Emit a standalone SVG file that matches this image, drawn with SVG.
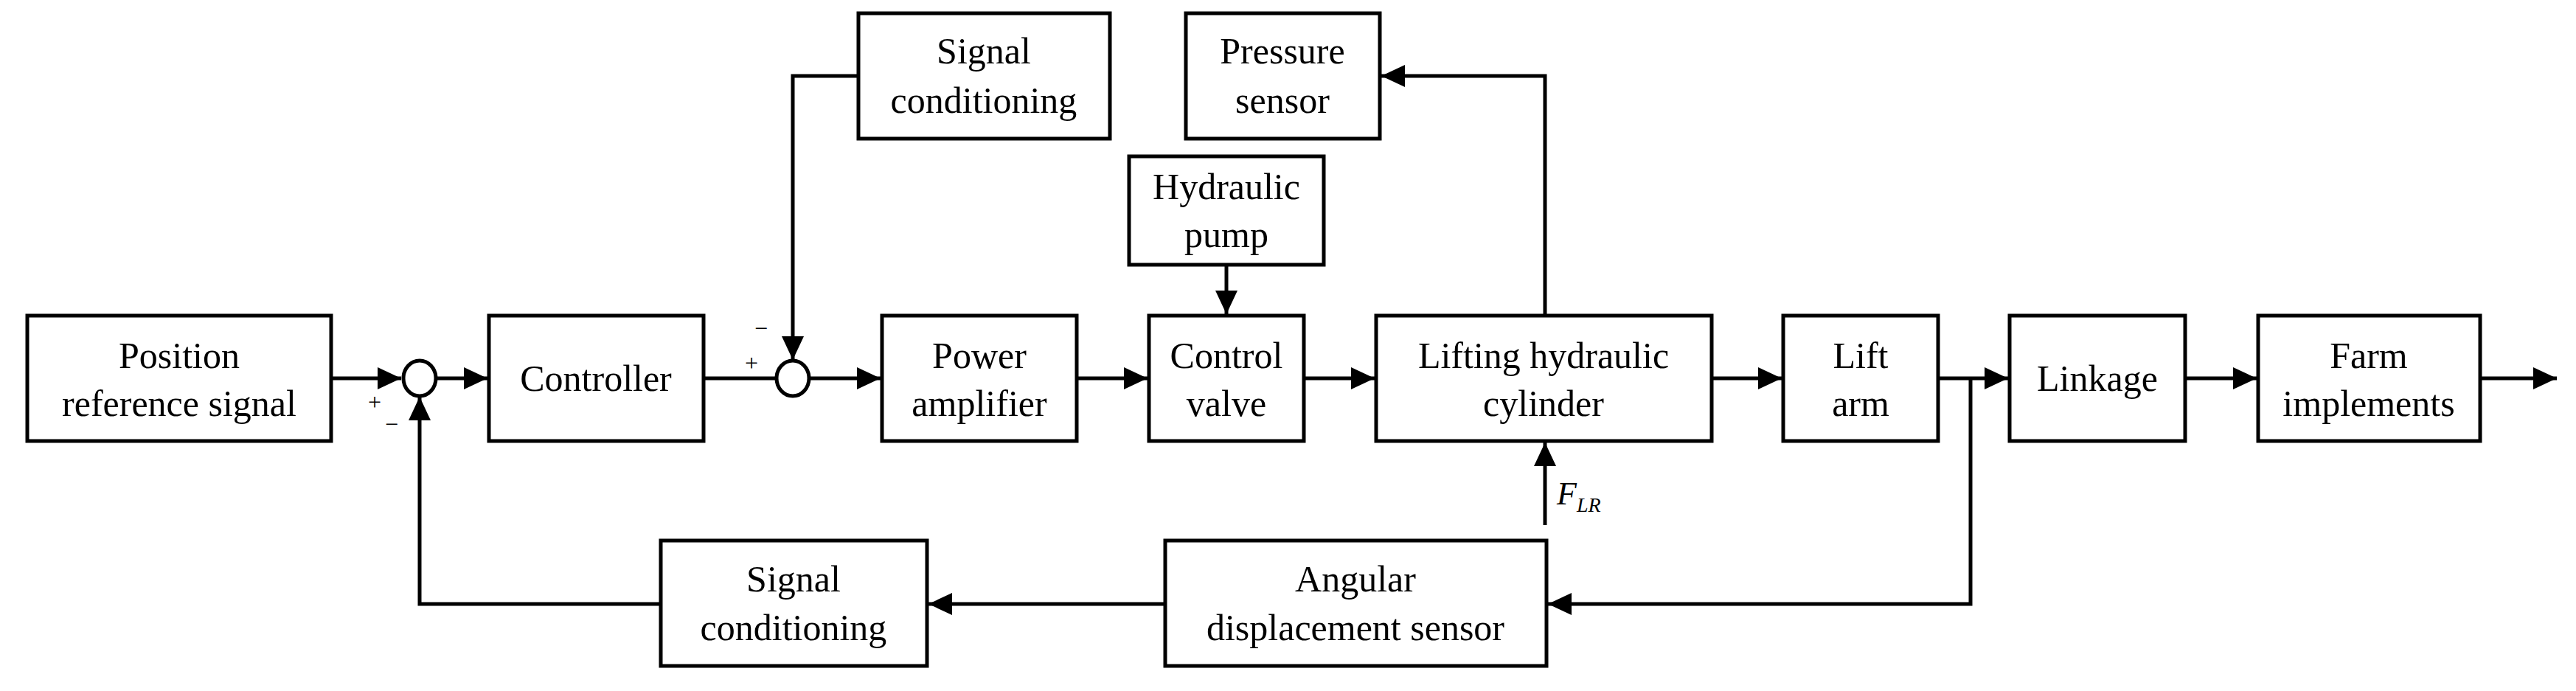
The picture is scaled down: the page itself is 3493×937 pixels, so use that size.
<svg xmlns="http://www.w3.org/2000/svg" width="3493" height="937" viewBox="0 0 3493 937">
<style>
.b{fill:#fff;stroke:#000;stroke-width:5}
.t{font-family:"Liberation Serif",serif;font-size:50px;text-anchor:middle;fill:#000}
.s{font-family:"Liberation Serif",serif;font-size:32px;text-anchor:middle;fill:#000}
.c{fill:none;stroke:#000;stroke-width:5}
</style>
<defs>
<marker id="a" markerUnits="userSpaceOnUse" markerWidth="34" markerHeight="30" refX="32" refY="15" orient="auto"><path d="M0,0L32,15L0,30Z"/></marker>
</defs>
<rect width="3493" height="937" fill="#fff"/>
<g id="connectors">
<path class="c" d="M449,513H544" marker-end="url(#a)"/>
<path class="c" d="M592,513H661" marker-end="url(#a)"/>
<path class="c" d="M954,513H1052"/>
<path class="c" d="M1098,513H1194" marker-end="url(#a)"/>
<path class="c" d="M1460,513H1556" marker-end="url(#a)"/>
<path class="c" d="M1768,513H1864" marker-end="url(#a)"/>
<path class="c" d="M2321,513H2416" marker-end="url(#a)"/>
<path class="c" d="M2628,513H2723" marker-end="url(#a)"/>
<path class="c" d="M2963,513H3060" marker-end="url(#a)"/>
<path class="c" d="M3363,513H3467" marker-end="url(#a)"/>
<path class="c" d="M1164,103H1075V488" marker-end="url(#a)"/>
<path class="c" d="M2095,428V103H1873" marker-end="url(#a)"/>
<path class="c" d="M1663,359V426" marker-end="url(#a)"/>
<path class="c" d="M2095,712V600" marker-end="url(#a)"/>
<path class="c" d="M2672,513V819H2099" marker-end="url(#a)"/>
<path class="c" d="M1580,819H1259" marker-end="url(#a)"/>
<path class="c" d="M896,819H569V538" marker-end="url(#a)"/>
<text class="s" x="1032" y="456">−</text>
<text class="s" x="1019" y="503">+</text>
<text class="s" x="508" y="556">+</text>
<text class="s" x="531" y="586">−</text>
<text x="2111" y="684" font-family="Liberation Serif,serif" font-size="44" font-style="italic">F<tspan font-size="28" dy="10">LR</tspan></text>
</g>
<g id="sum1"><ellipse class="b" cx="569" cy="513" rx="22" ry="24"/></g>
<g id="sum2"><ellipse class="b" cx="1075" cy="513" rx="22" ry="24"/></g>
<g id="position"><rect class="b" x="37" y="428" width="412" height="170"/><text class="t" x="243" y="499">Position</text><text class="t" x="243" y="564">reference signal</text></g>
<g id="controller"><rect class="b" x="663" y="428" width="291" height="170"/><text class="t" x="808" y="530">Controller</text></g>
<g id="power"><rect class="b" x="1196" y="428" width="264" height="170"/><text class="t" x="1328" y="499">Power</text><text class="t" x="1328" y="564">amplifier</text></g>
<g id="valve"><rect class="b" x="1558" y="428" width="210" height="170"/><text class="t" x="1663" y="499">Control</text><text class="t" x="1663" y="564">valve</text></g>
<g id="cylinder"><rect class="b" x="1866" y="428" width="455" height="170"/><text class="t" x="2093" y="499">Lifting hydraulic</text><text class="t" x="2093" y="564">cylinder</text></g>
<g id="liftarm"><rect class="b" x="2418" y="428" width="210" height="170"/><text class="t" x="2523" y="499">Lift</text><text class="t" x="2523" y="564">arm</text></g>
<g id="linkage"><rect class="b" x="2725" y="428" width="238" height="170"/><text class="t" x="2844" y="530">Linkage</text></g>
<g id="farm"><rect class="b" x="3062" y="428" width="301" height="170"/><text class="t" x="3212" y="499">Farm</text><text class="t" x="3212" y="564">implements</text></g>
<g id="signal1"><rect class="b" x="1164" y="18" width="341" height="170"/><text class="t" x="1334" y="86">Signal</text><text class="t" x="1334" y="153">conditioning</text></g>
<g id="pressure"><rect class="b" x="1608" y="18" width="263" height="170"/><text class="t" x="1739" y="86">Pressure</text><text class="t" x="1739" y="153">sensor</text></g>
<g id="pump"><rect class="b" x="1531" y="212" width="264" height="147"/><text class="t" x="1663" y="270">Hydraulic</text><text class="t" x="1663" y="335">pump</text></g>
<g id="signal2"><rect class="b" x="896" y="733" width="361" height="170"/><text class="t" x="1076" y="802">Signal</text><text class="t" x="1076" y="868">conditioning</text></g>
<g id="angular"><rect class="b" x="1580" y="733" width="517" height="170"/><text class="t" x="1838" y="802">Angular</text><text class="t" x="1838" y="868">displacement sensor</text></g>
</svg>
